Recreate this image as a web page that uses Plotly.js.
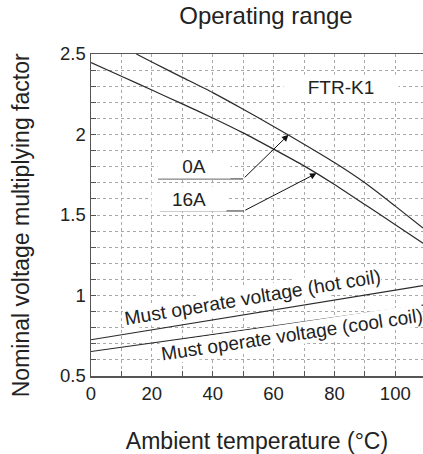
<!DOCTYPE html>
<html><head><meta charset="utf-8">
<script src="https://cdn.plot.ly/plotly-3.0.1.min.js"></script>
<style>html,body{margin:0;padding:0;background:#fff;overflow:hidden}</style>
</head><body><div id="chart" style="width:423px;height:454px"></div>
<script>
// Data
const curve0A_x = [14.9, 20, 30, 40, 50, 60, 70, 80, 90, 100, 109.1];
const curve0A_y = [2.5, 2.45, 2.355, 2.26, 2.157, 2.05, 1.94, 1.826, 1.70, 1.555, 1.419];
const curve16A_x = [0, 10, 20, 30, 40, 50, 60, 70, 80, 90, 100, 109.1];
const curve16A_y = [2.447, 2.362, 2.276, 2.19, 2.103, 2.01, 1.909, 1.805, 1.69, 1.565, 1.44, 1.324];
const hotCoil_x = [0, 109.1];
const hotCoil_y = [0.725, 1.062];
const coolCoil_x = [0, 109.1];
const coolCoil_y = [0.652, 0.94];
// Leader lines for the current labels: [start, elbow, tip]
const leader0A_x = [22, 50, 64.9];
const leader0A_y = [1.724, 1.724, 1.998];
const leader16A_x = [22.6, 50.2, 74.1];
const leader16A_y = [1.525, 1.525, 1.759];
const labels = ["0A", "16A", "FTR-K1", "Must operate voltage (hot coil)", "Must operate voltage (cool coil)"];
const xTicks = [0, 20, 40, 60, 80, 100];
const yTicks = [0.5, 1, 1.5, 2, 2.5];

const FONT = "Liberation Sans, Arial, Helvetica, sans-serif";
const INK = "#222";
const lineStyle = {color: "#2a2a2a", width: 1.2};

const traces = [
  {x: curve0A_x, y: curve0A_y, mode: "lines", line: Object.assign({shape: "spline", smoothing: 0.6}, lineStyle), hoverinfo: "skip"},
  {x: curve16A_x, y: curve16A_y, mode: "lines", line: Object.assign({shape: "spline", smoothing: 0.6}, lineStyle), hoverinfo: "skip"},
  {x: hotCoil_x, y: hotCoil_y, mode: "lines", line: lineStyle, hoverinfo: "skip"},
  {x: coolCoil_x, y: coolCoil_y, mode: "lines", line: lineStyle, hoverinfo: "skip"},
  {x: leader0A_x.slice(0, 2), y: leader0A_y.slice(0, 2), mode: "lines", line: {color: "#2a2a2a", width: 1}, hoverinfo: "skip"},
  {x: leader16A_x.slice(0, 2), y: leader16A_y.slice(0, 2), mode: "lines", line: {color: "#2a2a2a", width: 1}, hoverinfo: "skip"}
];

function arrow(lx, ly) {
  return {x: lx[2], y: ly[2], ax: lx[1], ay: ly[1], xref: "x", yref: "y", axref: "x", ayref: "y",
    text: "", showarrow: true, arrowhead: 2, arrowsize: 1.3, arrowwidth: 1, arrowcolor: "#111", standoff: 0};
}
function label(t, x, y, opts) {
  return Object.assign({x: x, y: y, xref: "x", yref: "y", text: t, showarrow: false,
    font: {family: FONT, size: 19, color: INK}, bgcolor: "#fff", xanchor: "center", yanchor: "middle"}, opts || {});
}

const annotations = [
  label(labels[0], 33.9, 1.807, {width: 70, height: 22}),
  label(labels[1], 32.3, 1.600, {width: 72, height: 22}),
  label(labels[2], 82.3, 2.295, {width: 112, height: 22}),
  label(labels[3], 53.0, 0.985, {textangle: -9.5, borderpad: 0, font: {family: FONT, size: 19.3, color: INK}}),
  label(labels[4], 66.2, 0.755, {textangle: -8.5, borderpad: 0, font: {family: FONT, size: 19, color: INK}}),
  arrow(leader0A_x, leader0A_y),
  arrow(leader16A_x, leader16A_y),
  {text: "Nominal voltage multiplying factor", xref: "paper", yref: "paper", x: -0.21, y: 0.469,
   xanchor: "center", yanchor: "middle", textangle: -90, showarrow: false,
   font: {family: FONT, size: 23, color: INK}}
];

const GRID = "#a8a8a8";

const layout = {
  width: 423, height: 454,
  margin: {l: 91, r: 0, t: 54, b: 78, pad: 0},
  paper_bgcolor: "#fff", plot_bgcolor: "#fff",
  showlegend: false,
  font: {family: FONT, color: INK},
  title: {text: "Operating range", font: {family: FONT, size: 24, color: INK},
    x: 0.527, xref: "paper", xanchor: "center", y: 1 - 16 / 454, yref: "container", yanchor: "middle"},
  xaxis: {
    range: [0, 109.1], tickvals: xTicks, ticktext: xTicks.map(String),
    showline: true, linecolor: "#555", linewidth: 1.5, mirror: true,
    ticks: "inside", ticklen: 5, tickcolor: "#555",
    showgrid: true, gridcolor: GRID, griddash: "dot", gridwidth: 1,
    minor: {dtick: 10, tick0: 0, ticks: "inside", ticklen: 5, tickcolor: "#555", showgrid: true, gridcolor: GRID, griddash: "dot", gridwidth: 1},
    tickfont: {family: FONT, size: 18.5, color: INK},
    zeroline: false, fixedrange: true,
    title: {text: "Ambient temperature (°C)", font: {family: FONT, size: 23, color: INK}, standoff: 30}
  },
  yaxis: {
    range: [0.5, 2.5], tickvals: yTicks, ticktext: ["0.5", "1", "1.5", "2", "2.5"],
    showline: true, linecolor: "#555", linewidth: 1.5,
    ticks: "inside", ticklen: 5, tickcolor: "#555",
    showgrid: true, gridcolor: GRID, griddash: "dot", gridwidth: 1,
    minor: {dtick: 0.1, tick0: 0.5, ticks: "inside", ticklen: 5, tickcolor: "#555", showgrid: true, gridcolor: GRID, griddash: "dot", gridwidth: 1},
    tickfont: {family: FONT, size: 18.5, color: INK},
    zeroline: false, fixedrange: true
  },
  annotations: annotations
};

Plotly.newPlot("chart", traces, layout, {staticPlot: true, displayModeBar: false});
</script>
</body></html>
